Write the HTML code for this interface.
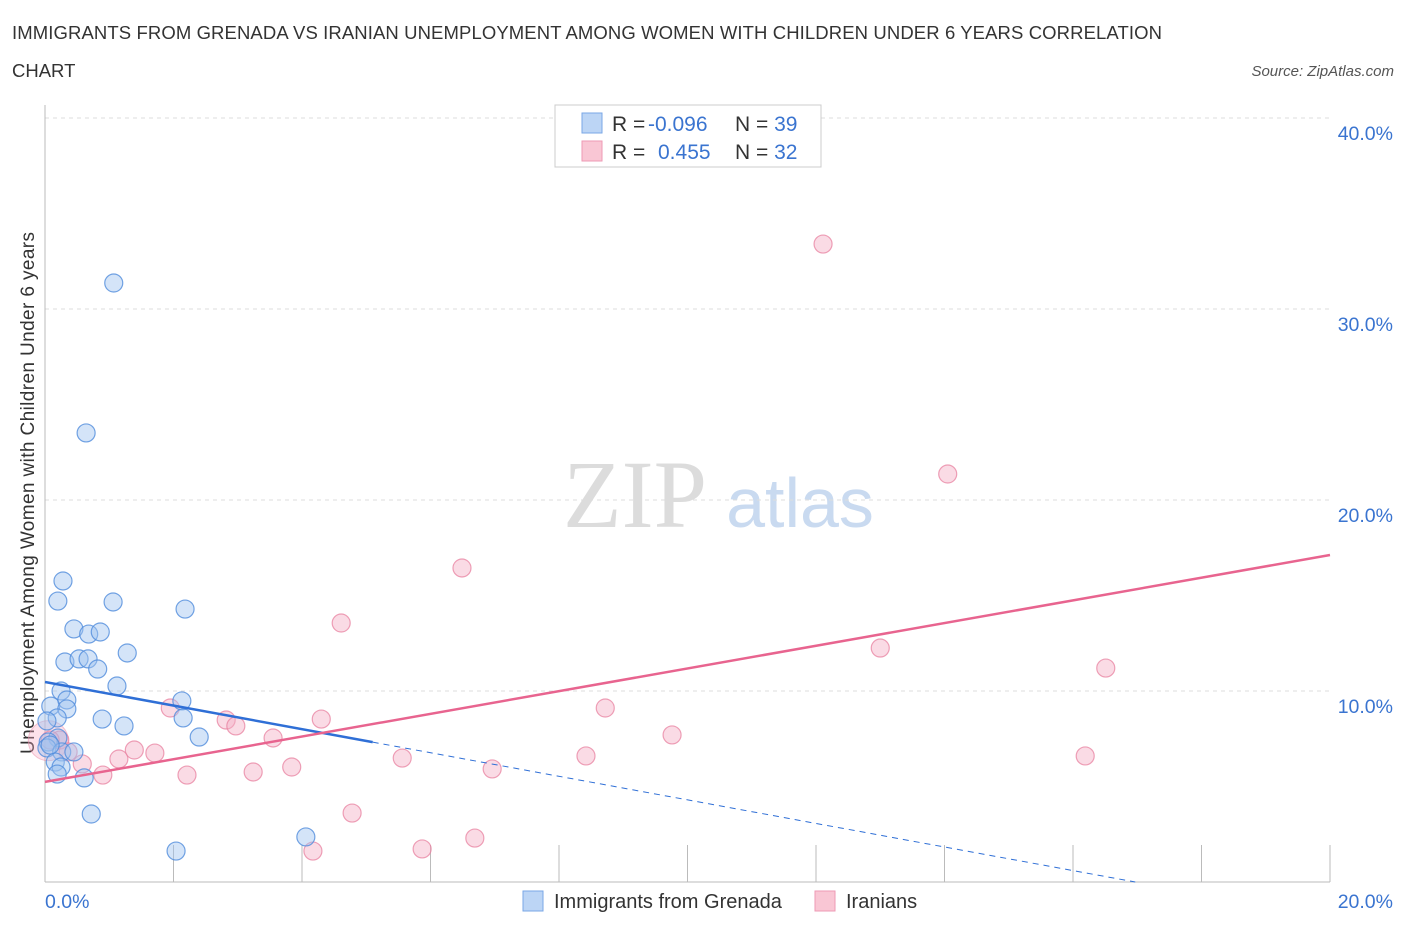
<!DOCTYPE html>
<html><head><meta charset="utf-8"><style>
body{margin:0;background:#fff;font-family:"Liberation Sans",sans-serif;}
svg{display:block}
</style></head><body>
<svg id="chart" width="1406" height="930">
<text x="12" y="39" font-size="18.5" fill="#333" textLength="1150">IMMIGRANTS FROM GRENADA VS IRANIAN UNEMPLOYMENT AMONG WOMEN WITH CHILDREN UNDER 6 YEARS CORRELATION</text>
<text x="12" y="77" font-size="18.5" fill="#333">CHART</text>
<text x="1394" y="76" font-size="15" fill="#555" font-style="italic" text-anchor="end">Source: ZipAtlas.com</text>
<text x="635" y="527" font-size="96" fill="#dcdcdc" font-family="Liberation Serif,serif" text-anchor="middle">ZIP</text>
<text x="800" y="527" font-size="70" fill="#c9daf0" text-anchor="middle">atlas</text>
<text transform="translate(34,493) rotate(-90)" font-size="19" fill="#333" text-anchor="middle" textLength="522">Unemployment Among Women with Children Under 6 years</text>
<g id="grid"></g><g id="marks"></g>
<g>
<rect x="555" y="105" width="266" height="62" fill="#fff" stroke="#ccc"/>
<rect x="582" y="113" width="20" height="20" fill="#bcd5f5" stroke="#7aa7e6"/>
<rect x="582" y="141" width="20" height="20" fill="#f9c6d4" stroke="#ee9ab4"/>
<text x="612" y="131" font-size="21" fill="#333">R = <tspan x="648" fill="#3a74d0">-0.096</tspan><tspan x="735">N = </tspan><tspan fill="#3a74d0">39</tspan></text>
<text x="612" y="159" font-size="21" fill="#333">R = <tspan x="658" fill="#3a74d0">0.455</tspan><tspan x="735">N = </tspan><tspan fill="#3a74d0">32</tspan></text>
</g>
<g>
<rect x="523" y="891" width="20" height="20" fill="#bcd5f5" stroke="#7aa7e6"/>
<text x="554" y="908" font-size="20" fill="#333">Immigrants from Grenada</text>
<rect x="815" y="891" width="20" height="20" fill="#f9c6d4" stroke="#ee9ab4"/>
<text x="846" y="908" font-size="20" fill="#333">Iranians</text>
</g>
</svg>
<script>
const blueX=[1.07,0.64,0.28,0.20,1.06,2.18,0.45,0.68,0.86,1.28,0.31,0.53,0.67,0.82,1.12,0.25,2.13,0.09,0.34,0.34,0.19,0.89,2.15,1.23,0.03,0.20,0.05,2.40,0.03,0.26,0.45,0.16,0.25,0.19,0.61,0.72,2.04,4.06,0.08];
const blueY=[31.36,23.51,15.76,14.71,14.66,14.29,13.25,12.98,13.09,11.99,11.52,11.68,11.68,11.15,10.26,10.0,9.48,9.21,9.53,9.06,8.59,8.53,8.59,8.17,8.43,7.54,7.33,7.59,7.02,6.81,6.81,6.28,6.02,5.65,5.45,3.56,1.62,2.36,7.17];
const pinkX=[12.11,14.05,6.49,4.61,13.0,16.51,8.72,4.30,1.95,2.82,2.97,9.76,3.55,1.39,1.71,8.42,16.19,5.56,1.15,0.58,3.84,6.96,3.24,2.21,0.90,4.78,6.69,5.87,4.17,0.23,0.36,0.08];
const pinkY=[33.4,21.36,16.44,13.56,12.25,11.20,9.11,8.53,9.11,8.48,8.17,7.70,7.54,6.91,6.75,6.60,6.60,6.49,6.44,6.18,6.02,5.92,5.76,5.60,5.60,3.61,2.30,1.73,1.62,7.43,6.81,7.43];
const yTicks=[10,20,30,40];
const yTickLabels=["10.0%","20.0%","30.0%","40.0%"];
const xTicks=[0,2,4,6,8,10,12,14,16,18,20];
const xEndLabels=["0.0%","20.0%"];
const blueTrend=[10.47,-0.617,5.1];
const pinkTrend=[5.24,17.12];
const NS="http://www.w3.org/2000/svg";
const sx=v=>45+v*64.25, sy=v=>882-v*19.1;
function mk(tag,attrs,parent){const e=document.createElementNS(NS,tag);for(const k in attrs)e.setAttribute(k,attrs[k]);parent.appendChild(e);return e;}
const grid=document.getElementById('grid'),marks=document.getElementById('marks');
yTicks.forEach((t,i)=>{
 const l=mk('line',{x1:45,x2:1330,y1:sy(t),y2:sy(t),stroke:'#ddd','stroke-dasharray':'4,4'},grid);
 
 
 const tx=mk('text',{x:1393,y:sy(t)+22,'font-size':19.5,fill:'#3a74d0','text-anchor':'end'},grid);
 tx.textContent=yTickLabels[i];
 
 
});
const ya=mk('line',{x1:45,x2:45,y1:105,y2:882,stroke:'#bbb'},grid);


const xa=mk('line',{x1:45,x2:1330,y1:882,y2:882,stroke:'#bbb'},grid);


xTicks.forEach(t=>{
 const l=mk('line',{x1:sx(t),x2:sx(t),y1:845,y2:882,stroke:'#bbb'},grid);
 
 
});
[[0,'start',45],[20,'end',1393]].forEach((a,i)=>{
 const tx=mk('text',{x:a[2],y:908,'font-size':19.5,fill:'#3a74d0','text-anchor':a[1]},grid);
 tx.textContent=xEndLabels[i];
 
 
});
const big=mk('circle',{cx:sx(0.05),cy:sy(7.4),r:20,fill:'rgba(245,170,195,0.35)',stroke:'rgba(232,138,165,0.5)'},marks);


pinkX.forEach((x,i)=>{
 const c=mk('circle',{cx:sx(x),cy:sy(pinkY[i]),r:9,fill:'rgba(245,175,198,0.45)',stroke:'rgba(232,130,160,0.75)','stroke-width':1.2},marks);
 
 
});
blueX.forEach((x,i)=>{
 const c=mk('circle',{cx:sx(x),cy:sy(blueY[i]),r:9,fill:'rgba(160,195,240,0.45)',stroke:'rgba(80,140,220,0.8)','stroke-width':1.2},marks);
 
 
});
const bf=x=>blueTrend[0]+blueTrend[1]*x;
const zeroX=-blueTrend[0]/blueTrend[1];
const bl=mk('line',{x1:sx(0),y1:sy(bf(0)),x2:sx(blueTrend[2]),y2:sy(bf(blueTrend[2])),stroke:'#2f6fd6','stroke-width':2.5},marks);


const bd=mk('line',{x1:sx(blueTrend[2]),y1:sy(bf(blueTrend[2])),x2:sx(zeroX),y2:sy(0),stroke:'#2f6fd6','stroke-width':1,'stroke-dasharray':'6,5'},marks);


const pl=mk('line',{x1:sx(0),y1:sy(pinkTrend[0]),x2:sx(20),y2:sy(pinkTrend[1]),stroke:'#e8648f','stroke-width':2.5},marks);


</script>
</body></html>
